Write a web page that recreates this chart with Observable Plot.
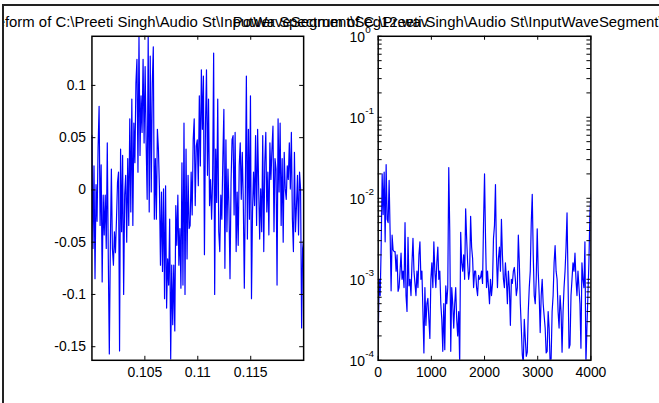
<!DOCTYPE html>
<html><head><meta charset="utf-8">
<script src="https://cdn.jsdelivr.net/npm/d3@7"></script>
<script src="https://cdn.jsdelivr.net/npm/@observablehq/plot@0.6"></script>
<style>
html,body{margin:0;padding:0;background:#fff;}
#fig{position:relative;width:659px;height:403px;overflow:hidden;background:#fff;}
#border{position:absolute;left:2px;top:4px;width:700px;height:500px;border-left:2px solid #222;border-top:2px solid #222;}
#clip{position:absolute;left:4px;top:6px;width:655px;height:397px;overflow:hidden;}
#clip svg{position:absolute;left:-4px;top:-6px;}
</style></head><body><div id="fig"><div id="border"></div><div id="clip"></div></div>
<script>
// ---- data ----
const leftTitle = "Waveform of C:\\Preeti Singh\\Audio St\\InputWaveSegment\\Seg12.wav";
const rightTitle = "Power Spectrum of C:\\Preeti Singh\\Audio St\\InputWaveSegment\\Seg12.wav";

const waveStart = 0.1, waveEnd = 0.12;
const waveValues = [0.052, -0.056, 0.023, -0.085, 0.005, -0.03, 0.04, 0.08, -0.034, 0.024, -0.088, -0.005, -0.043, -0.005, -0.056, 0.045, -0.066, -0.157, -0.053, 0.02, -0.056, -0.072, -0.04, -0.06, -0.028, 0.007, 0.017, -0.154, 0.039, -0.04, 0.033, -0.1, -0.005, 0.014, -0.05, 0.03, -0.034, 0.068, -0.021, 0.087, -0.034, 0.064, 0.026, 0.102, 0.125, 0.017, 0.147, 0.033, 0.09, 0.055, 0.125, 0.045, 0.118, 0.045, -0.009, 0.147, -0.021, 0.128, -0.002, 0.102, 0.137, -0.028, 0.03, -0.028, 0.058, 0.039, 0.001, -0.072, -0.002, -0.078, 0.001, -0.104, 0.004, -0.113, -0.066, -0.091, -0.028, -0.162, -0.072, -0.129, -0.072, -0.135, -0.015, -0.053, -0.005, -0.072, -0.037, -0.094, 0.026, -0.091, 0.064, -0.1, 0.039, -0.066, 0.014, -0.037, -0.034, 0.017, -0.024, 0.048, 0.068, -0.015, 0.042,
 0.048, 0.004, 0.09, 0.023, 0.115, 0.058, 0.109, -0.062, 0.061, 0.115, 0.014, 0.087, -0.015, 0.01, -0.028, 0.01, 0.131, -0.1, 0.039, -0.012, 0.087, -0.04, -0.059, -0.005, -0.028, 0.03, 0.077, -0.075, 0.048, -0.04, 0.02, -0.018, -0.085, 0.007, 0.048, 0.052, -0.024, 0.055, -0.059, -0.002, -0.053, 0.023, 0.045, -0.009, 0.036, -0.012, -0.094, -0.002, 0.109, -0.047, 0.058, -0.028, 0.09, -0.104, -0.021, 0.017, -0.015, 0.052, -0.034, 0.058, 0.004, -0.047, 0.001, -0.04, 0.052, -0.059, 0.026, 0.055, -0.021, 0.017, -0.043, 0.045, 0.01, 0.039, 0.061, -0.04, 0.03, 0.02, -0.091, 0.068, -0.002, 0.064, -0.034, 0.03, -0.05, 0.036, 0.001, -0.009, 0.023, 0.01, 0.045, 0.001, 0.055, -0.028, -0.059, 0.036, -0.04, -0.015, 0.014, -0.043, 0.017, 0.001, -0.132, -0.056, -0.047];

const waveXTicks = [0.105, 0.11, 0.115];
const waveYTicks = [-0.15, -0.1, -0.05, 0, 0.05, 0.1];

const specMaxFreq = 4000;
const specValues = [1.86e-4, 1.0e-3, 6.3e-4, 2.5e-3, 2.0e-2, 6.3e-3, 2.1e-2, 2.9e-3, 2.6e-2, 5.5e-3,
 5.0e-3, 1.66e-2, 3.8e-3, 7.2e-4, 3.5e-3, 2.3e-3, 2.2e-3, 2.2e-3, 1.26e-3, 2.0e-3,
 7.1e-4, 7.9e-4, 1.26e-3, 2.1e-3, 1.0e-3, 1.26e-3, 7.9e-4, 5.0e-3, 6.3e-4, 4.0e-4,
 3.3e-3, 8.3e-4, 1.0e-3, 6.3e-4, 1.6e-3, 3.2e-3, 1.26e-3, 8.9e-4, 6.3e-4, 1.26e-3,
 7.9e-4, 2.0e-3, 2.9e-3, 1.0e-3, 1.26e-3, 4.0e-4, 1.23e-4, 7.9e-4, 2.7e-4, 5.0e-4,
 5.8e-4, 3.2e-4, 1.86e-4, 1.0e-3, 1.6e-3, 7.9e-4, 2.9e-3, 1.26e-3, 7.9e-4, 1.6e-3,
 2.5e-3, 1.0e-3, 1.26e-3, 5.0e-4, 3.2e-4, 1.29e-4, 5.0e-4, 1.35e-4, 8.3e-4, 5.0e-4,
 7.9e-4, 2.4e-2, 4.0e-3, 1.29e-4, 7.9e-4, 5.0e-4, 2.5e-4, 5.0e-4, 7.9e-4, 3.2e-4,
 2.0e-4, 4.0e-4, 9e-5, 3.8e-3, 1.6e-3, 1.26e-3, 2.0e-3, 1.0e-3, 7.4e-3, 3.2e-3,
 1.6e-3, 1.0e-3, 1.26e-3, 6.0e-3, 2.5e-3, 1.8e-3, 7.9e-4, 1.26e-3, 1.26e-3, 7.9e-4,
 6.3e-4, 1.12e-3, 1.0e-3, 1.05e-3, 1.26e-3, 8.9e-4, 5.0e-3, 2.0e-2, 3.2e-3, 7.9e-4,
 1.26e-3, 7.9e-4, 5.0e-4, 1.0e-3, 6.3e-4, 8.9e-4, 3.2e-3, 4.6e-3, 1.48e-2, 2.0e-3,
 7.9e-4, 1.8e-3, 2.5e-3, 1.26e-3, 5.5e-3, 2.0e-3, 1.0e-3, 7.9e-4, 1.6e-3, 1.0e-3,
 5.0e-4, 1.26e-3, 7.9e-4, 2.7e-4, 1.0e-3, 8.9e-4, 1.26e-3, 1.4e-3, 1.0e-3, 6.3e-4,
 7.9e-4, 3.5e-3, 1.6e-3, 5.0e-4, 2.5e-4, 1.17e-4, 9e-5, 3.2e-4, 1.86e-4, 1.12e-4,
 1.26e-4, 4.0e-4, 7.9e-4, 1.26e-3, 5.0e-3, 1.12e-2, 2.0e-3, 6.3e-4, 5.0e-4, 1.0e-3,
 4.2e-3, 1.26e-3, 6.3e-4, 2.2e-4, 6.3e-4, 1.0e-3, 5.0e-4, 3.5e-4, 2.5e-4, 1.23e-4,
 1.29e-4, 4.0e-4, 2.5e-4, 9e-5, 1.05e-4, 4.0e-4, 6.3e-4, 1.6e-3, 2.6e-3, 1.26e-3,
 1.0e-3, 4.0e-4, 2.5e-4, 6.3e-4, 4.0e-4, 1.26e-4, 4.0e-4, 7.9e-4, 1.26e-3, 2.5e-3,
 6.6e-3, 1.0e-3, 1.41e-4, 1.55e-4, 6.3e-4, 1.0e-3, 1.6e-3, 1.26e-3, 2.1e-3, 1.0e-3,
 6.3e-4, 1.26e-3, 7.9e-4, 5.0e-4, 1.41e-4, 1.6e-3, 1.0e-3, 7.9e-4, 2.9e-3, 9e-5,
 2.5e-4, 6.3e-4, 1.6e-3, 6.3e-3, 1.12e-2];

const specXTicks = [0, 1000, 2000, 3000, 4000];
const specYTicks = [1e-4, 1e-3, 1e-2, 1e-1, 1];
const specYExponents = ["-4", "-3", "-2", "-1", "0"];

// ---- build tables ----
const waveStep = (waveEnd - waveStart) / (waveValues.length - 1);
const wave = waveValues.map((v, i) => ({t: waveStart + i * waveStep, v}));
const specStep = specMaxFreq / (specValues.length - 1);
const spec = specValues.map((p, i) => ({f: i * specStep, p}));
const specMinorTicks = [];
for (const k of [1e-4, 1e-3, 1e-2, 1e-1]) for (let m = 2; m <= 9; m++) specMinorTicks.push(m * k);

const W = 659, H = 403, MT = 36, MB = 41;
const plotH = H - MT - MB;
const TL = 4;
const font = "'Liberation Sans', Arial, Helvetica, sans-serif";
const style = {background: "transparent", fontFamily: font, fontSize: "14px", color: "black", overflow: "visible"};
const fmt = d => String(d);

// left panel
const lW = 305 - 92;
const leftPlot = Plot.plot({
  width: W, height: H, marginTop: MT, marginBottom: MB, marginLeft: 92, marginRight: W - 305,
  style,
  x: {domain: [waveStart, waveEnd]},
  y: {domain: [-0.163, 0.147]},
  marks: [
    Plot.line(wave, {x: "t", y: "v", stroke: "#0000ff", strokeWidth: 1.2, clip: true}),
    Plot.tickX(waveXTicks, {x: d => d, insetTop: plotH - TL, stroke: "black"}),
    Plot.tickX(waveXTicks, {x: d => d, insetBottom: plotH - TL, stroke: "black"}),
    Plot.tickY(waveYTicks, {y: d => d, insetRight: lW - TL, stroke: "black"}),
    Plot.tickY(waveYTicks, {y: d => d, insetLeft: lW - TL, stroke: "black"}),
    Plot.frame({stroke: "black", strokeWidth: 1.5}),
    Plot.axisX(waveXTicks, {tickSize: 0, tickPadding: 7, tickFormat: fmt, label: null}),
    Plot.axisY(waveYTicks, {tickSize: 0, tickPadding: 6, tickFormat: fmt, label: null}),
    Plot.text([leftTitle], {text: d => d, frameAnchor: "top", dy: -14.3, lineAnchor: "middle", fontSize: 15})
  ]
});

// right panel
const rW = 594 - 380;
const rightPlot = Plot.plot({
  width: W, height: H, marginTop: MT, marginBottom: MB, marginLeft: 380, marginRight: W - 594,
  style,
  x: {domain: [0, specMaxFreq]},
  y: {type: "log", domain: [1e-4, 1]},
  marks: [
    Plot.line(spec, {x: "f", y: "p", stroke: "#0000ff", strokeWidth: 1.2, clip: true}),
    Plot.tickX(specXTicks, {x: d => d, insetTop: plotH - TL, stroke: "black"}),
    Plot.tickX(specXTicks, {x: d => d, insetBottom: plotH - TL, stroke: "black"}),
    Plot.tickY(specYTicks.concat(specMinorTicks), {y: d => d, insetRight: rW - TL, stroke: "black"}),
    Plot.tickY(specYTicks.concat(specMinorTicks), {y: d => d, insetLeft: rW - TL, stroke: "black"}),
    Plot.frame({stroke: "black", strokeWidth: 1.5}),
    Plot.axisX(specXTicks, {tickSize: 0, tickPadding: 7, tickFormat: fmt, label: null}),
    Plot.axisY(specYTicks, {tickSize: 0, tickFormat: () => "", label: null}),
    Plot.text(specYTicks, {y: d => d, text: () => "10", frameAnchor: "left", textAnchor: "end", dx: -13.3, dy: 1.5, lineAnchor: "middle", fontSize: 14}),
    Plot.text(specYTicks, {y: d => d, text: (d, i) => specYExponents[i], frameAnchor: "left", textAnchor: "start", dx: -13, dy: -6.5, lineAnchor: "middle", fontSize: 10}),
    Plot.text([rightTitle], {text: d => d, frameAnchor: "top", dy: -14.3, lineAnchor: "middle", fontSize: 15})
  ]
});

const clip = document.getElementById("clip");
clip.appendChild(leftPlot);
clip.appendChild(rightPlot);
</script></body></html>
